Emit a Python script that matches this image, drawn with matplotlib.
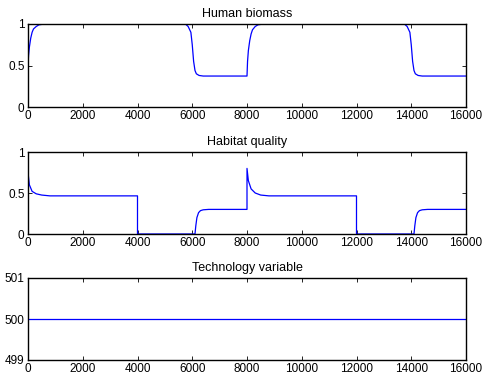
import matplotlib
matplotlib.use("Agg")
import matplotlib.pyplot as plt

plt.rcParams['font.family'] = ['Liberation Sans', 'DejaVu Sans']

# Human biomass
human_t = [0, 20, 50, 100, 150, 200, 300, 400, 600, 5750, 5850, 5950, 6000, 6050,
           6100, 6150, 6250, 6400, 8000, 8020, 8050, 8100, 8150, 8200, 8300, 8400,
           8600, 13750, 13850, 13950, 14000, 14050, 14100, 14150, 14250, 14400, 16000]
human_v = [0.5, 0.62, 0.72, 0.83, 0.9, 0.94, 0.97, 0.99, 1.0, 1.0, 0.97, 0.9, 0.75, 0.55,
           0.44, 0.4, 0.38, 0.373, 0.373, 0.55, 0.68, 0.8, 0.88, 0.93, 0.97, 0.99,
           1.0, 1.0, 0.97, 0.9, 0.75, 0.55, 0.44, 0.4, 0.38, 0.373, 0.373]

# Habitat quality
habitat_t = [0, 50, 150, 300, 500, 800, 4000, 4000, 6100, 6130, 6170, 6230, 6300, 6400,
             6600, 8000, 8000, 8050, 8150, 8300, 8500, 8800, 12000, 12000, 14100, 14130,
             14170, 14230, 14300, 14400, 14600, 16000]
habitat_v = [0.75, 0.6, 0.52, 0.49, 0.475, 0.465, 0.465, 0.0, 0.0, 0.1, 0.2, 0.26, 0.285, 0.295,
             0.3, 0.3, 0.8, 0.65, 0.55, 0.5, 0.475, 0.465, 0.465, 0.0, 0.0, 0.1,
             0.2, 0.26, 0.285, 0.295, 0.3, 0.3]

# Technology variable
tech_t = [0, 16000]
tech_v = [500, 500]

titles = ["Human biomass", "Habitat quality", "Technology variable"]
xticks = [0, 2000, 4000, 6000, 8000, 10000, 12000, 14000, 16000]

fig = plt.figure(figsize=(4.84, 3.86), dpi=100)
W, H = 484, 386
boxes = [(28, 24, 466, 107), (28, 152, 466, 234), (28, 278, 466, 360)]
series = [(human_t, human_v, [0, 0.5, 1], ["0", "0.5", "1"], (0, 1)),
          (habitat_t, habitat_v, [0, 0.5, 1], ["0", "0.5", "1"], (0, 1)),
          (tech_t, tech_v, [499, 500, 501], ["499", "500", "501"], (499, 501))]

for (x0, y0, x1, y1), (t, v, yt, ytl, ylim), title in zip(boxes, series, titles):
    ax = fig.add_axes([x0 / W, 1 - y1 / H, (x1 - x0) / W, (y1 - y0) / H])
    ax.plot(t, v, color="#0000ff", linewidth=0.9)
    ax.set_xlim(0, 16000)
    ax.set_ylim(*ylim)
    ax.set_xticks(xticks)
    ax.set_xticklabels([str(x) for x in xticks], fontsize=8.5)
    ax.set_yticks(yt)
    ax.set_yticklabels(ytl, fontsize=8.5)
    ax.tick_params(direction="in", length=3, width=0.6, top=True, right=True, pad=2.5)
    for s in ax.spines.values():
        s.set_linewidth(1.0)
    ax.set_title(title, fontsize=9, pad=5)

fig.savefig("out.png", dpi=100)
